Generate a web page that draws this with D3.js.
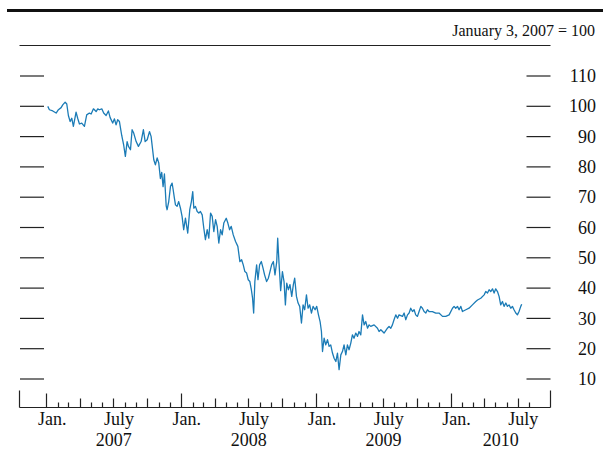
<!DOCTYPE html>
<html>
<head>
<meta charset="utf-8">
<script src="https://cdn.jsdelivr.net/npm/d3@7"></script>
<style>
  html, body { margin: 0; padding: 0; background: #fff; }
  svg { display: block; }
  text { font-family: "Liberation Serif", "Times New Roman", Times, serif; fill: #111; }
</style>
</head>
<body>
<svg id="chart" width="603" height="454"></svg>
<script>
// ---- Data ----
const note = "January 3, 2007 = 100";
const yTicks = [10, 20, 30, 40, 50, 60, 70, 80, 90, 100, 110];
const monthLabels = [
  {date: "2007-01", label: "Jan."}, {date: "2007-07", label: "July"},
  {date: "2008-01", label: "Jan."}, {date: "2008-07", label: "July"},
  {date: "2009-01", label: "Jan."}, {date: "2009-07", label: "July"},
  {date: "2010-01", label: "Jan."}, {date: "2010-07", label: "July"}
];
const yearLabels = ["2007", "2008", "2009", "2010"];
const axisStart = "2006-10-20";
const axisEnd = "2010-09-28";

// time in decimal years
const seriesTime = [
2007.010,2007.022,2007.047,2007.072,2007.089,2007.109,2007.121,2007.139,2007.151,2007.163,
2007.176,2007.188,2007.200,2007.220,2007.232,2007.245,2007.262,2007.282,2007.299,2007.319,
2007.332,2007.349,2007.369,2007.381,2007.393,2007.411,2007.425,2007.443,2007.460,2007.473,
2007.492,2007.505,2007.517,2007.529,2007.542,2007.559,2007.574,2007.586,2007.599,2007.609,
2007.624,2007.636,2007.648,2007.666,2007.683,2007.703,2007.720,2007.733,2007.748,2007.765,
2007.777,2007.797,2007.809,2007.822,2007.834,2007.846,2007.856,2007.866,2007.876,2007.889,
2007.896,2007.908,2007.921,2007.933,2007.941,2007.950,2007.958,2007.970,2007.982,2007.995,
2008.007,2008.019,2008.032,2008.049,2008.064,2008.076,2008.086,2008.094,2008.106,2008.119,
2008.131,2008.143,2008.156,2008.168,2008.180,2008.193,2008.205,2008.218,2008.230,2008.242,
2008.255,2008.267,2008.279,2008.292,2008.304,2008.316,2008.334,2008.346,2008.359,2008.371,
2008.386,2008.403,2008.420,2008.435,2008.448,2008.460,2008.472,2008.485,2008.497,2008.509,
2008.520,2008.529,2008.537,2008.546,2008.559,2008.569,2008.581,2008.594,2008.606,2008.618,
2008.633,2008.646,2008.658,2008.670,2008.683,2008.695,2008.708,2008.715,2008.725,2008.737,
2008.750,2008.762,2008.772,2008.782,2008.794,2008.806,2008.819,2008.831,2008.841,2008.854,
2008.866,2008.878,2008.891,2008.903,2008.915,2008.928,2008.940,2008.952,2008.965,2008.977,
2008.992,2009.004,2009.017,2009.029,2009.039,2009.047,2009.059,2009.071,2009.084,2009.096,
2009.108,2009.121,2009.133,2009.146,2009.158,2009.170,2009.183,2009.195,2009.207,2009.220,
2009.232,2009.244,2009.257,2009.269,2009.281,2009.294,2009.307,2009.318,2009.331,2009.344,
2009.356,2009.368,2009.381,2009.393,2009.405,2009.430,2009.455,2009.467,2009.480,2009.504,
2009.529,2009.541,2009.554,2009.566,2009.578,2009.591,2009.604,2009.615,2009.641,2009.653,
2009.665,2009.678,2009.690,2009.702,2009.715,2009.727,2009.739,2009.752,2009.764,2009.777,
2009.789,2009.801,2009.814,2009.826,2009.838,2009.863,2009.888,2009.912,2009.938,2009.962,
2009.987,2010.012,2010.024,2010.036,2010.049,2010.061,2010.074,2010.086,2010.111,2010.135,
2010.160,2010.185,2010.198,2010.222,2010.247,2010.259,2010.272,2010.284,2010.296,2010.309,
2010.321,2010.333,2010.346,2010.358,2010.370,2010.383,2010.395,2010.408,2010.420,2010.432,
2010.445,2010.457,2010.469,2010.482,2010.494,2010.506,2010.519,2010.526
];
const seriesValue = [
99.8,98.7,98.3,97.6,98.7,99.4,100.3,101.2,100.6,96.8,
94.8,95.9,93.2,97.9,95.9,94.0,94.3,93.2,97.0,97.6,
97.3,99.0,98.1,99.0,98.7,99.0,97.6,96.8,98.3,96.1,
94.3,95.7,93.7,95.4,94.8,90.2,86.9,83.3,88.2,86.6,
85.5,92.1,91.0,88.2,86.6,88.2,92.1,88.2,88.8,91.5,
89.9,82.2,80.5,82.8,81.1,76.0,78.0,73.3,77.5,67.0,
65.7,68.4,73.4,74.5,72.3,69.5,67.3,66.8,68.4,66.2,
63.5,59.1,62.9,58.0,65.7,68.4,71.7,66.2,66.8,65.1,
64.6,65.1,64.0,59.6,55.8,59.1,56.3,64.6,63.5,58.5,
62.4,60.2,54.7,59.1,57.4,61.3,62.9,61.3,59.1,60.2,
57.4,55.2,53.6,48.6,49.2,47.5,45.3,44.8,42.6,42.0,
39.3,36.5,31.6,42.0,47.5,42.6,47.5,48.6,46.5,44.2,
42.0,43.1,45.3,47.5,48.6,44.2,48.6,56.3,48.0,39.0,
45.3,42.0,34.3,41.5,39.3,41.0,37.1,41.0,43.1,37.1,
34.9,33.8,28.3,34.3,32.7,37.6,33.2,34.3,31.6,33.8,
32.7,33.8,31.0,28.8,25.5,18.9,23.3,21.1,22.8,20.6,
21.1,18.4,16.7,15.6,18.4,12.9,17.8,18.9,21.1,17.8,
21.1,19.5,21.7,24.4,23.3,25.0,23.9,25.5,24.4,31.0,
27.7,28.8,26.6,27.7,27.2,27.7,26.6,25.5,26.1,25.0,
26.6,27.2,26.6,27.7,29.4,31.0,29.9,31.0,30.5,31.6,
29.4,31.0,31.6,33.2,32.1,32.7,31.0,30.5,32.1,33.8,
33.2,32.1,31.6,32.7,32.1,32.1,31.6,31.6,30.5,30.5,
31.0,33.2,33.8,33.2,33.8,32.7,33.8,32.1,32.7,33.2,
34.3,35.4,35.9,36.5,37.6,38.7,38.2,39.3,38.7,39.6,
38.2,39.6,38.7,37.1,34.3,35.4,33.8,34.9,33.8,34.3,
33.2,33.8,32.7,31.6,31.0,32.1,33.8,34.5
];

// ---- Helpers ----
function decimalYearToDate(t) {
  const y = Math.floor(t);
  const start = new Date(y, 0, 1).getTime();
  const end = new Date(y + 1, 0, 1).getTime();
  return new Date(start + (t - y) * (end - start));
}
const parseMonth = d3.timeParse("%Y-%m");
const parseDay = d3.timeParse("%Y-%m-%d");

const data = seriesTime.map((t, i) => ({date: decimalYearToDate(t), value: seriesValue[i]}));

// ---- Layout ----
const svg = d3.select("#chart");
const W = 603;
const axisLeftX = 19.5, axisRightX = 550.5;
const baseY = 407.5;

const x = d3.scaleTime()
  .domain([parseDay(axisStart), parseDay(axisEnd)])
  .range([axisLeftX, axisRightX]);
const y = d3.scaleLinear().domain([10, 110]).range([378.5, 75.5]);

// Top rules and note
svg.append("line").attr("x1", 7).attr("x2", W).attr("y1", 10.5).attr("y2", 10.5)
  .attr("stroke", "#111").attr("stroke-width", 3);
svg.append("line").attr("x1", axisLeftX).attr("x2", axisRightX).attr("y1", 45.5).attr("y2", 45.5)
  .attr("stroke", "#222").attr("stroke-width", 1.2);
svg.append("text").attr("x", 595).attr("y", 36).attr("text-anchor", "end")
  .attr("font-size", "16px").text(note);

// Left ticks (no labels)
const leftAxis = svg.append("g").attr("transform", `translate(20,0)`)
  .call(d3.axisRight(y).tickValues(yTicks).tickSize(24).tickFormat(""));
leftAxis.select(".domain").remove();
leftAxis.selectAll(".tick line").attr("stroke", "#222").attr("stroke-width", 1.2);

// Right ticks with labels
const rightAxis = svg.append("g").attr("transform", `translate(526.5,0)`)
  .call(d3.axisRight(y).tickValues(yTicks).tickSize(24).tickFormat(d3.format("d")));
rightAxis.select(".domain").remove();
rightAxis.selectAll(".tick line").attr("stroke", "#222").attr("stroke-width", 1.2);
rightAxis.selectAll(".tick text")
  .attr("x", 69.5).attr("dy", "0.34em").attr("text-anchor", "end")
  .attr("font-size", "18px").attr("font-family", "Liberation Serif, Times New Roman, serif")
  .attr("fill", "#111");

// Bottom axis
const gx = svg.append("g");
gx.append("line").attr("x1", axisLeftX).attr("x2", axisRightX).attr("y1", baseY).attr("y2", baseY)
  .attr("stroke", "#222").attr("stroke-width", 1.2);
[axisLeftX, axisRightX].forEach(px => {
  gx.append("line").attr("x1", px).attr("x2", px).attr("y1", 390.5).attr("y2", baseY)
    .attr("stroke", "#222").attr("stroke-width", 1.2);
});
const months = d3.timeMonth.range(parseMonth("2007-01"), parseMonth("2010-09"));
gx.selectAll("line.mt").data(months).join("line").attr("class", "mt")
  .attr("x1", d => Math.round(x(d)) + 0.5).attr("x2", d => Math.round(x(d)) + 0.5)
  .attr("y1", d => baseY - (d.getMonth() === 0 ? 14 : (d.getMonth() % 3 === 0 ? 9 : 5)))
  .attr("y2", baseY)
  .attr("stroke", "#222").attr("stroke-width", 1.2);

gx.selectAll("text.ml").data(monthLabels).join("text").attr("class", "ml")
  .attr("x", d => { const s = parseMonth(d.date); return (x(s) + x(d3.timeMonth.offset(s, 1))) / 2; })
  .attr("y", 425).attr("text-anchor", "middle").attr("font-size", "18px")
  .text(d => d.label);

gx.selectAll("text.yl").data(yearLabels).join("text").attr("class", "yl")
  .attr("x", d => {
    const s = new Date(+d, 0, 1);
    const e = d3.min([new Date(+d + 1, 0, 1), parseDay(axisEnd)]);
    return (x(s) + x(e)) / 2;
  })
  .attr("y", 446).attr("text-anchor", "middle").attr("font-size", "18px")
  .text(d => d);

// Series line
const line = d3.line().x(d => x(d.date)).y(d => y(d.value));
svg.append("path").datum(data)
  .attr("fill", "none").attr("stroke", "#1b7bb6").attr("stroke-width", 1.3)
  .attr("stroke-linejoin", "round").attr("d", line);
</script>
</body>
</html>
